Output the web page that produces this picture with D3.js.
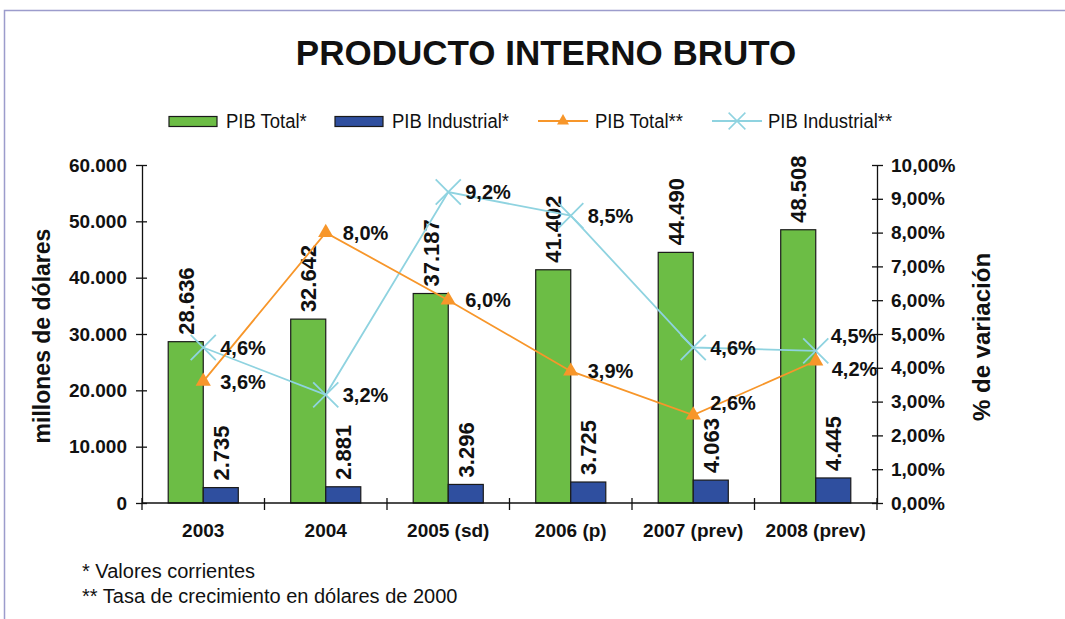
<!DOCTYPE html>
<html>
<head>
<meta charset="utf-8">
<script src="https://cdn.jsdelivr.net/npm/d3@7"></script>
<style>
  body { margin: 0; background: #fff; }
  svg { display: block; }
  text { font-family: "Liberation Sans", Arial, sans-serif; fill: #111; }
  .bold { font-weight: bold; }
</style>
</head>
<body>
<div id="chart"></div>
<script>

// categories and series
var years = ["2003", "2004", "2005 (sd)", "2006 (p)", "2007 (prev)", "2008 (prev)"];
var pibTotal = [28636, 32642, 37187, 41402, 44490, 48508];
var pibIndustrial = [2735, 2881, 3296, 3725, 4063, 4445];
var pctTotal = [3.6, 8.0, 6.0, 3.9, 2.6, 4.2];
var pctIndustrial = [4.6, 3.2, 9.2, 8.5, 4.6, 4.5];

// tick values
var leftTicks = [0, 10000, 20000, 30000, 40000, 50000, 60000];
var rightTicks = [0, 1, 2, 3, 4, 5, 6, 7, 8, 9, 10];

var legendItems = ["PIB Total*", "PIB Industrial*", "PIB Total**", "PIB Industrial**"];
var notes = ["* Valores corrientes", "** Tasa de crecimiento en dólares de 2000"];

var width = 1065, height = 619;
var colGreen = "#6cbd45", colBlue = "#2f4f9f", colOrange = "#f7962a", colCyan = "#8fd3e0";

// spanish number format
var es = d3.formatLocale({decimal: ",", thousands: ".", grouping: [3], currency: ["", "$"]});
var fmtInt = es.format(",d");
var fmtPct2 = function(v){ return es.format(".2f")(v) + "%"; };
var fmtPct1 = function(v){ return es.format(".1f")(v) + "%"; };

var svg = d3.select("#chart").append("svg")
    .attr("width", width)
    .attr("height", height);

// frame
svg.append("path")
    .attr("d", "M4.5," + height + "V10.5H" + width)
    .attr("fill", "none")
    .attr("stroke", "#9c9ccc")
    .attr("stroke-width", 1.5);

//Title
svg.append("text")
    .attr("class", "bold")
    .attr("x", 546)
    .attr("y", 65)
    .attr("text-anchor", "middle")
    .style("font-size", "35px")
    .text("PRODUCTO INTERNO BRUTO");

var plot = {left: 142, right: 877, top: 165, bottom: 503};

var x = d3.scaleBand()
    .domain(years)
    .range([plot.left, plot.right]);

var y = d3.scaleLinear()
    .domain([0, 60000])
    .range([plot.bottom, plot.top]);

var yPct = d3.scaleLinear()
    .domain([0, 10])
    .range([plot.bottom, plot.top]);

var barW = x.bandwidth() * 0.286;
function cx(d, i) { return x(years[i]) + x.bandwidth() / 2; }

//Bars
var bars = svg.append("g");
bars.selectAll(".bar-total").data(pibTotal).enter().append("rect")
    .attr("class", "bar-total")
    .attr("x", function(d, i){ return cx(d, i) - barW; })
    .attr("y", function(d){ return y(d); })
    .attr("width", barW)
    .attr("height", function(d){ return y(0) - y(d); })
    .attr("fill", colGreen)
    .attr("stroke", "#1a1a1a")
    .attr("stroke-width", 1.2);

bars.selectAll(".bar-ind").data(pibIndustrial).enter().append("rect")
    .attr("class", "bar-ind")
    .attr("x", function(d, i){ return cx(d, i); })
    .attr("y", function(d){ return y(d); })
    .attr("width", barW)
    .attr("height", function(d){ return y(0) - y(d); })
    .attr("fill", colBlue)
    .attr("stroke", "#1a1a1a")
    .attr("stroke-width", 1.2);

//Bar value labels, rotated
function barLabels(values, shift) {
    bars.selectAll(null).data(values).enter().append("text")
        .attr("class", "bold")
        .attr("transform", function(d, i){
            return "translate(" + (cx(d, i) + shift) + "," + (y(d) - 7) + ") rotate(-90)";
        })
        .attr("dy", "0.36em")
        .style("font-size", "22px")
        .text(function(d){ return fmtInt(d); });
}
barLabels(pibTotal, -barW / 2);
barLabels(pibIndustrial, barW / 2);

//Left axis
var yAxis = svg.append("g")
    .attr("transform", "translate(" + plot.left + ",0)")
    .call(d3.axisLeft(y).tickValues(leftTicks).tickFormat(fmtInt)
        .tickSizeInner(6).tickSizeOuter(0).tickPadding(9));

//Right axis
var yAxisR = svg.append("g")
    .attr("transform", "translate(" + plot.right + ",0)")
    .call(d3.axisRight(yPct).tickValues(rightTicks).tickFormat(fmtPct2)
        .tickSizeInner(6).tickSizeOuter(0).tickPadding(8));

[yAxis, yAxisR].forEach(function(ax, k){
    ax.select(".domain").attr("stroke", "#111").attr("stroke-width", 1.3);
    ax.selectAll(".tick line").attr("stroke", "#111").attr("stroke-width", 1.3)
        .attr("x1", k ? -5 : 5);
    ax.selectAll(".tick text")
        .attr("class", "bold")
        .style("font-family", "'Liberation Sans', Arial, sans-serif")
        .style("font-size", "19px")
        .attr("fill", "#111");
});

//Category axis, ticks at band edges
var xAxis = svg.append("g");
xAxis.append("line")
    .attr("x1", plot.left).attr("x2", plot.right)
    .attr("y1", plot.bottom).attr("y2", plot.bottom)
    .attr("stroke", "#111").attr("stroke-width", 1.3);

var edges = years.map(function(d){ return x(d); }).concat([x.range()[1]]);
xAxis.selectAll(".xtick").data(edges).enter().append("line")
    .attr("x1", function(d){ return d; }).attr("x2", function(d){ return d; })
    .attr("y1", plot.bottom - 5).attr("y2", plot.bottom + 7)
    .attr("stroke", "#111").attr("stroke-width", 1.3);

xAxis.selectAll(".xlabel").data(years).enter().append("text")
    .attr("class", "bold")
    .attr("x", function(d){ return x(d) + x.bandwidth() / 2; })
    .attr("y", 537)
    .attr("text-anchor", "middle")
    .style("font-size", "19px")
    .text(function(d){ return d; });

//Axis titles
svg.append("text")
    .attr("class", "bold")
    .attr("transform", "translate(50,336) rotate(-90)")
    .attr("text-anchor", "middle")
    .style("font-size", "23px")
    .text("millones de dólares");

svg.append("text")
    .attr("class", "bold")
    .attr("transform", "translate(990,337) rotate(-90)")
    .attr("text-anchor", "middle")
    .style("font-size", "24px")
    .text("% de variación");

//Lines
var line = d3.line()
    .x(function(d, i){ return cx(d, i); })
    .y(function(d){ return yPct(d); });

var tri = d3.symbol().type(d3.symbolTriangle);
var cross = d3.symbol().type(d3.symbolX);

svg.append("path")
    .datum(pctIndustrial)
    .attr("d", line)
    .attr("fill", "none")
    .attr("stroke", colCyan)
    .attr("stroke-width", 1.8);

svg.append("path")
    .datum(pctTotal)
    .attr("d", line)
    .attr("fill", "none")
    .attr("stroke", colOrange)
    .attr("stroke-width", 1.8);

svg.selectAll(".mk-ind").data(pctIndustrial).enter().append("path")
    .attr("class", "mk-ind")
    .attr("transform", function(d, i){ return "translate(" + cx(d, i) + "," + yPct(d) + ")"; })
    .attr("d", cross.size(414)())
    .attr("fill", "none")
    .attr("stroke", colCyan)
    .attr("stroke-width", 1.8);

svg.selectAll(".mk-tot").data(pctTotal).enter().append("path")
    .attr("class", "mk-tot")
    .attr("transform", function(d, i){ return "translate(" + cx(d, i) + "," + yPct(d) + ")"; })
    .attr("d", tri.size(100)())
    .attr("fill", colOrange);

//Point labels, nudged where they would collide
function nudge(series, i) {
    if (i === 4 && series === "tot") return [0, -12];
    if (i === 5 && series === "ind") return [-2, -15];
    if (i === 5 && series === "tot") return [-1, 8];
    return [0, 0];
}

function pointLabels(values, series) {
    svg.selectAll(null).data(values).enter().append("text")
        .attr("class", "bold")
        .attr("x", function(d, i){ return cx(d, i) + 17 + nudge(series, i)[0]; })
        .attr("y", function(d, i){ return yPct(d) + nudge(series, i)[1]; })
        .attr("dy", "0.36em")
        .style("font-size", "20px")
        .text(function(d){ return fmtPct1(d); });
}
pointLabels(pctIndustrial, "ind");
pointLabels(pctTotal, "tot");

//Legend
var legend = svg.append("g");
var legendX = [169, 335, 538, 712];

legend.append("rect").attr("x", legendX[0]).attr("y", 116.5).attr("width", 48).attr("height", 10)
    .attr("fill", colGreen).attr("stroke", "#1a1a1a").attr("stroke-width", 1.2);
legend.append("rect").attr("x", legendX[1]).attr("y", 116.5).attr("width", 48).attr("height", 10)
    .attr("fill", colBlue).attr("stroke", "#1a1a1a").attr("stroke-width", 1.2);
legend.append("line").attr("x1", legendX[2]).attr("x2", legendX[2] + 50).attr("y1", 121).attr("y2", 121)
    .attr("stroke", colOrange).attr("stroke-width", 1.8);
legend.append("path").attr("transform", "translate(" + (legendX[2] + 25) + ",121)")
    .attr("d", tri.size(62)()).attr("fill", colOrange);
legend.append("line").attr("x1", legendX[3]).attr("x2", legendX[3] + 50).attr("y1", 121).attr("y2", 121)
    .attr("stroke", colCyan).attr("stroke-width", 1.8);
legend.append("path").attr("transform", "translate(" + (legendX[3] + 25) + ",121)")
    .attr("d", cross.size(185)()).attr("fill", "none").attr("stroke", colCyan).attr("stroke-width", 1.5);

// legend text is condensed in the original, squeeze it horizontally
var legendTextX = [226, 392, 595, 768];
legend.selectAll(".ltext").data(legendItems).enter().append("text")
    .attr("transform", function(d, i){ return "translate(" + legendTextX[i] + ",128) scale(0.88,1)"; })
    .style("font-size", "21px")
    .text(function(d){ return d; });

//Footnotes
svg.selectAll(".note").data(notes).enter().append("text")
    .attr("x", 82)
    .attr("y", function(d, i){ return 578 + i * 25; })
    .style("font-size", "20px")
    .text(function(d){ return d; });

</script>
</body>
</html>
